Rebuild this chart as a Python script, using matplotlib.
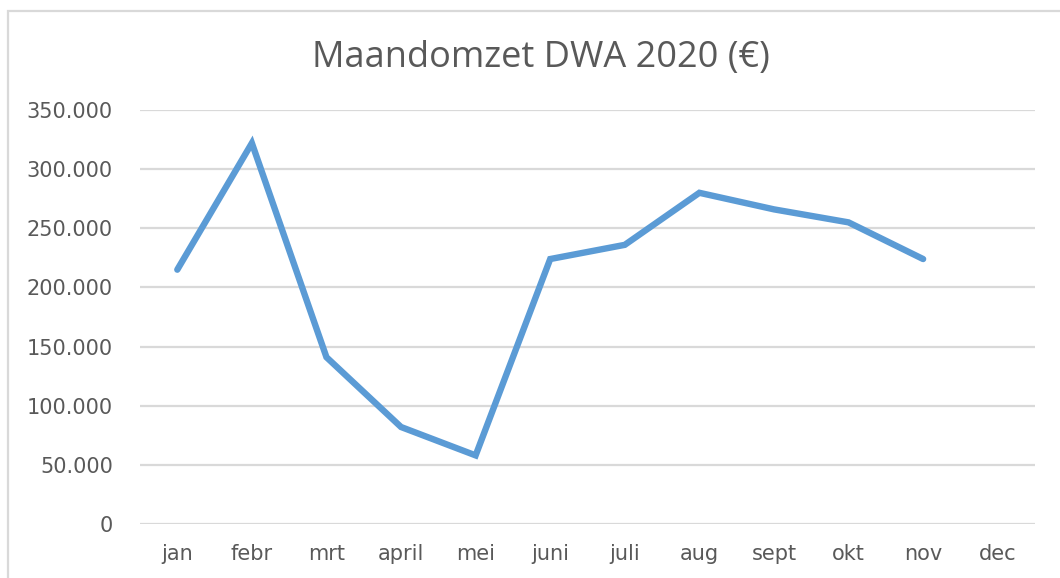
import matplotlib
matplotlib.use("Agg")
import matplotlib.pyplot as plt
from matplotlib.patches import Rectangle
from matplotlib.ticker import FuncFormatter, MultipleLocator

months = ["jan", "febr", "mrt", "april", "mei", "juni", "juli", "aug", "sept", "okt", "nov", "dec"]
revenue = [215000, 322000, 141000, 82000, 58000, 224000, 236000, 280000, 266000, 255000, 224000, None]
title = "Maandomzet DWA 2020 (€)"

text_color = "#595959"
grid_color = "#D9D9D9"
line_color = "#5B9BD5"

fig = plt.figure(figsize=(10.6, 5.78), dpi=100)
fig.patch.set_facecolor("white")
fig.patches.append(Rectangle((7.5 / 1060, -0.05), 1.1, 1 - 11 / 578 + 0.05,
                             transform=fig.transFigure, fill=False,
                             edgecolor="#D9D9D9", linewidth=1.6, zorder=0))

ax = fig.add_axes([140 / 1060, 1 - 524 / 578, (1035 - 140) / 1060, (524 - 110) / 578])
xs = [i for i, v in enumerate(revenue) if v is not None]
ys = [v for v in revenue if v is not None]
ax.plot(xs, ys, color=line_color, linewidth=4.6, solid_capstyle="round",
        solid_joinstyle="miter", zorder=3)

ax.set_xlim(-0.5, len(months) - 0.5)
ax.set_ylim(0, 350000)
ax.set_xticks(range(len(months)))
ax.set_xticklabels(months)
ax.yaxis.set_major_locator(MultipleLocator(50000))
ax.yaxis.set_major_formatter(FuncFormatter(lambda v, p: f"{int(v):,}".replace(",", ".")))
ax.grid(axis="y", color=grid_color, linewidth=1.6, zorder=0)
ax.set_axisbelow(True)
for s in ax.spines.values():
    s.set_visible(False)
ax.tick_params(axis="both", length=0, colors=text_color, labelsize=15)
ax.tick_params(axis="x", pad=14.5)
ax.tick_params(axis="y", pad=19.5)

fig.text(541 / 1060, 1 - 58 / 578, title, ha="center", va="center",
         fontsize=26, color=text_color, family="Open Sans")

fig.savefig("out.png", dpi=100)
